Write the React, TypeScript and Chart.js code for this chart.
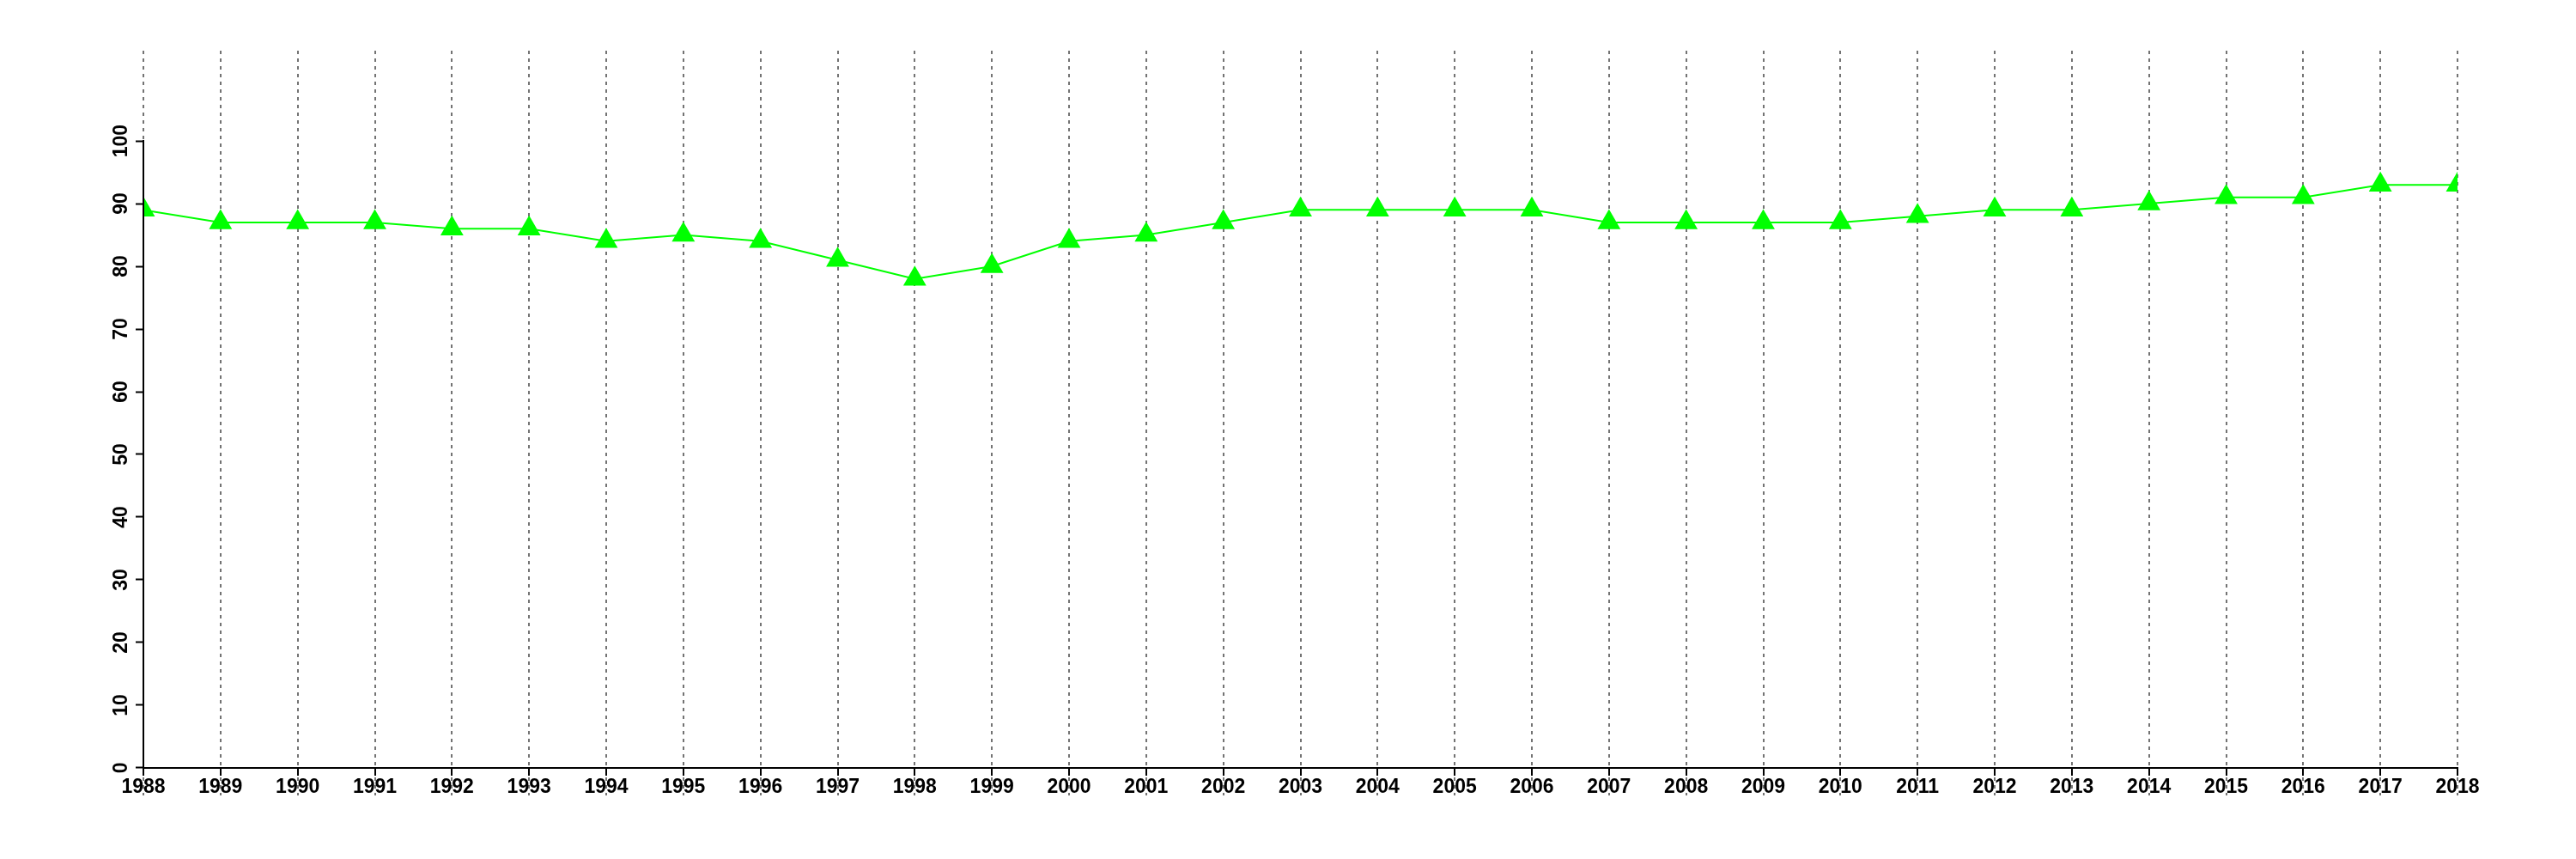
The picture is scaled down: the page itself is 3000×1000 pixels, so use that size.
import React, { useEffect, useRef } from 'react';
import { Chart, registerables } from 'chart.js';

Chart.register(...registerables);

const years = [1988, 1989, 1990, 1991, 1992, 1993, 1994, 1995, 1996, 1997, 1998, 1999, 2000, 2001, 2002, 2003, 2004, 2005, 2006, 2007, 2008, 2009, 2010, 2011, 2012, 2013, 2014, 2015, 2016, 2017, 2018];
const values = [89, 87, 87, 87, 86, 86, 84, 85, 84, 81, 78, 80, 84, 85, 87, 89, 89, 89, 89, 87, 87, 87, 87, 88, 89, 89, 90, 91, 91, 93, 93];
const yTicks = [0, 10, 20, 30, 40, 50, 60, 70, 80, 90, 100];
const xTicks = years;

const FONT = { family: '"Liberation Sans", Arial, Helvetica, sans-serif', size: 23, weight: 'bold' as const };

const yAxisLinePlugin = {
  id: 'yAxisLine',
  afterDraw(chart: any) {
    const xs = chart.scales.x;
    const ys = chart.scales.y;
    const ctx = chart.ctx;
    const px = Math.round(xs.getPixelForValue(xTicks[0]));
    ctx.save();
    ctx.strokeStyle = '#000000';
    ctx.lineWidth = 2;
    ctx.beginPath();
    ctx.moveTo(px, ys.getPixelForValue(yTicks[0]) + 1);
    ctx.lineTo(px, ys.getPixelForValue(yTicks[yTicks.length - 1]) - 1);
    ctx.stroke();
    ctx.restore();
  },
};

export default function App() {
  const ref = useRef<HTMLCanvasElement | null>(null);

  useEffect(() => {
    if (!ref.current) return;
    const chart = new Chart(ref.current, {
      type: 'line',
      data: {
        datasets: [
          {
            data: years.map((y, i) => ({ x: y, y: values[i] })),
            borderColor: '#00ff00',
            backgroundColor: '#00ff00',
            borderWidth: 2,
            pointStyle: 'triangle',
            pointRadius: 15.5,
            pointBorderWidth: 0,
            pointBackgroundColor: '#00ff00',
            pointBorderColor: '#00ff00',
            tension: 0,
            fill: false,
          },
        ],
      },
      plugins: [yAxisLinePlugin],
      options: {
        animation: false,
        responsive: false,
        devicePixelRatio: 1,
        layout: { padding: { left: 0, right: 138, top: 59, bottom: 74 } },
        plugins: { legend: { display: false }, tooltip: { enabled: false }, title: { display: false } },
        scales: {
          x: {
            type: 'linear',
            position: { y: 0 } as any,
            min: xTicks[0],
            max: xTicks[xTicks.length - 1],
            z: 1,
            afterBuildTicks: (s: any) => {
              s.ticks = xTicks.map((v) => ({ value: v }));
            },
            grid: {
              display: true,
              drawOnChartArea: true,
              drawTicks: true,
              color: '#737373',
              lineWidth: 2,
              tickLength: 8,
              tickColor: '#000000',
              tickWidth: 2,
              tickBorderDash: [],
            },
            border: { display: true, color: '#000000', width: 2, dash: [4, 5] },
            ticks: {
              autoSkip: false,
              minRotation: 0,
              maxRotation: 0,
              color: '#000000',
              font: FONT,
              padding: 1,
              callback: (v: any) => String(v),
            },
          },
          y: {
            type: 'linear',
            position: 'left',
            min: -4.4,
            max: 114.4,
            afterBuildTicks: (s: any) => {
              s.ticks = yTicks.map((v) => ({ value: v }));
            },
            afterFit: (s: any) => {
              s.width = 167;
            },
            grid: {
              display: true,
              drawOnChartArea: false,
              drawTicks: true,
              tickLength: 9,
              tickColor: '#000000',
              tickWidth: 2,
            },
            border: { display: false },
            ticks: {
              minRotation: 90,
              maxRotation: 90,
              crossAlign: 'center',
              padding: -3,
              color: '#000000',
              font: FONT,
              callback: (v: any) => String(v),
            },
          },
        },
      },
    });
    return () => chart.destroy();
  }, []);

  return (
    <div style={{ position: 'fixed', left: 0, top: 0, width: 3000, height: 1000, background: '#ffffff' }}>
      <canvas ref={ref} width={3000} height={1000} style={{ width: 3000, height: 1000, display: 'block' }} />
    </div>
  );
}
